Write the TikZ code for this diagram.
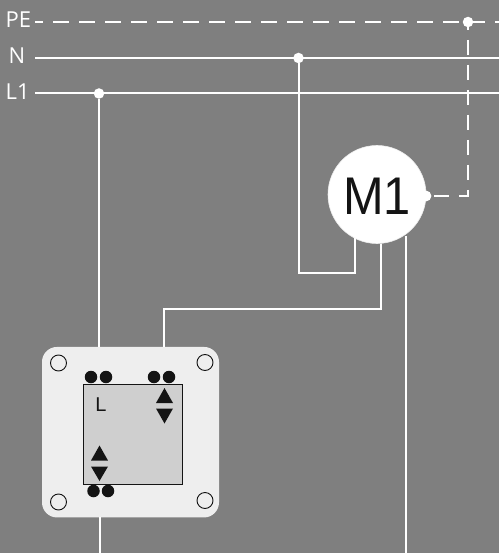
\documentclass[tikz,border=0pt]{standalone}
\usepackage{fontspec}
\setmainfont{Liberation Sans}
\newfontfamily\labelfont{Open Sans}
\definecolor{bgc}{HTML}{7F7F7F}
\definecolor{platec}{HTML}{EEEEEE}
\definecolor{innerc}{HTML}{CFCFCF}
\definecolor{inkc}{HTML}{141414}
\tikzset{
  wire/.style={draw=white,line width=2pt},
  pewire/.style={wire,dash pattern=on 16pt off 10pt,dash phase=8pt},
  pedrop/.style={wire,dash pattern=on 15pt off 10pt,dash phase=7pt},
  junction/.style={circle,fill=white,minimum size=10.5pt,inner sep=0pt},
  termdot/.style={circle,fill=inkc,minimum size=12.5pt,inner sep=0pt},
  hole/.style={circle,draw=inkc,fill=none,line width=0.9pt,minimum size=16pt,inner sep=0pt},
  tri/.style={fill=inkc,draw=none},
  netlabel/.style={text=white,font=\labelfont\fontsize{22}{22}\selectfont,inner sep=0pt,anchor=base west},
}
\begin{document}
\begin{tikzpicture}[x=1pt,y=-1pt]
\useasboundingbox (0,0) rectangle (499,553);
\fill[bgc] (0,0) rectangle (499,553);
% coordinates
\coordinate (PEs) at (35,22); \coordinate (PEe) at (499,22);
\coordinate (Ns) at (35,58); \coordinate (Ne) at (499,58);
\coordinate (Ls) at (35,93.5); \coordinate (Le) at (499,93.5);
\coordinate (bend1) at (298.5,273); \coordinate (bend2) at (355,273);
\coordinate (bend3) at (381,309); \coordinate (bend4) at (164,309);
\coordinate (bend5) at (468,196);
\coordinate (wireout) at (405.5,553);
\coordinate (bottomout) at (99.5,553);
% nets
\node[netlabel] (pe) at (5.5,28) {PE};
\node[netlabel] (n) at (8.5,63.5) {N};
\node[netlabel] (l1) at (5.5,99.5) {L1};
\draw[pewire] (PEs) -- (PEe);
\draw[wire] (Ns) -- (Ne);
\draw[wire] (Ls) -- (Le);
% plate
\node[draw=none,fill=platec,rounded corners=15pt,minimum width=177pt,minimum height=170.5pt,inner sep=0pt] (plate) at (130.5,432.2) {};
\node[draw=inkc,fill=innerc,line width=1pt,minimum width=99pt,minimum height=100pt,inner sep=0pt] (inner) at (133,434) {};
% junctions
\node[junction] (jL) at (99,93.5) {};
\node[junction] (jN) at (298.5,58) {};
\node[junction] (jPE) at (468,22) {};
% motor
\node[circle,fill=white,draw=platec,line width=0.6pt,minimum size=98pt,inner sep=0pt] (motor) at (377,194.5) {};
\node[text=inkc,font=\fontsize{53}{53}\selectfont,inner sep=0pt,xscale=0.92] (m1) at (377,196) {M1};
\node[junction] (jM) at (426,196) {};
% wires
\draw[wire] (jL) -- (99,347);
\draw[wire] (jN) -- (bend1) -- (bend2) -- (355,238);
\draw[wire] (381,243.5) -- (bend3) -- (bend4) -- (164,347);
\draw[wire] (405.5,236) -- (wireout);
\draw[wire] (99.5,517) -- (bottomout);
\draw[pedrop] (jPE.center) -- (bend5) -- (jM.center);
\node[junction] at (jM) {};
% terminals
\foreach \nm/\px/\py in {a/91/377,b/106/377,c/154/377,d/169/377,e/93.5/491,f/108/491}
  \node[termdot] (t\nm) at (\px,\py) {};
\foreach \nm/\px/\py in {a/58.5/363,b/205/362.5,c/58.5/502,d/205/500.5}
  \node[hole] (h\nm) at (\px,\py) {};
% triangles
\fill[tri] (164.5,388) -- (173,403) -- (156,403) -- cycle;
\fill[tri] (164.5,423.5) -- (173,408.5) -- (156,408.5) -- cycle;
\fill[tri] (99.5,445.5) -- (108,460.5) -- (91,460.5) -- cycle;
\fill[tri] (99.5,481) -- (108,466.5) -- (91,466.5) -- cycle;
\node[text=inkc,font=\fontsize{20}{20}\selectfont,inner sep=0pt,anchor=base] (lbl) at (101,411) {L};
\end{tikzpicture}
\end{document}
